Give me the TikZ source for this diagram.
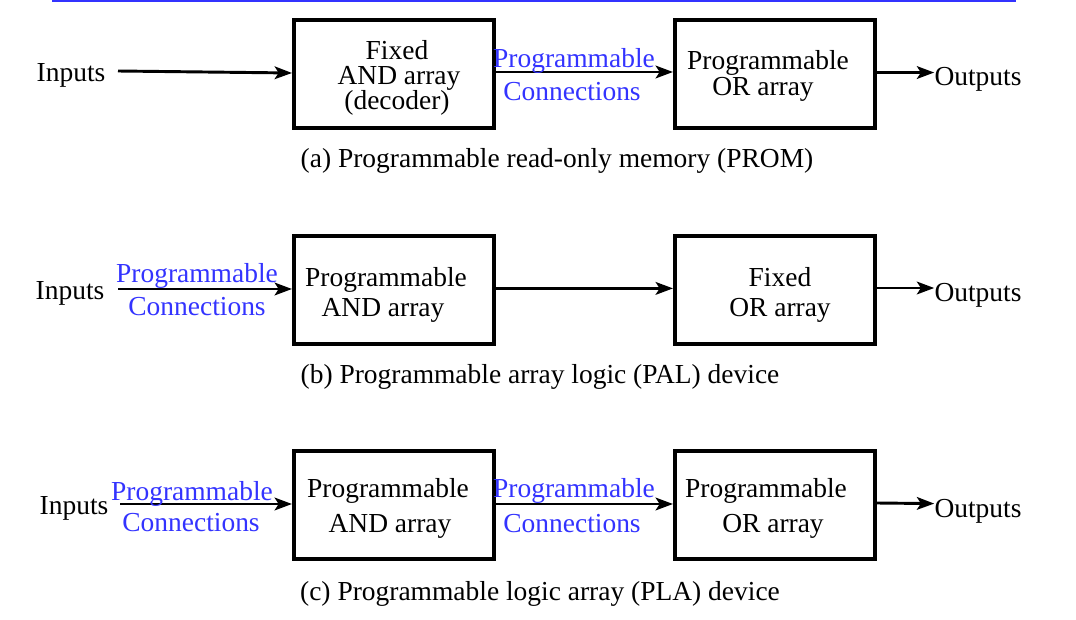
\documentclass[tikz,border=0pt]{standalone}
\usepackage{fontspec}
\setmainfont{Liberation Serif}
\usetikzlibrary{arrows.meta}
\definecolor{pblue}{HTML}{3333FF}
\begin{document}
\begin{tikzpicture}[x=0.75pt,y=-0.75pt,
  blk/.style={draw,line width=3pt,minimum width=150pt,minimum height=81pt,inner sep=0pt},
  txt/.style={inner sep=0pt,text height=0.64em,text depth=0.18em,yshift=-4.5pt,font=\fontsize{20.6}{24}\selectfont},
  btxt/.style={txt,text=pblue},
  conn/.style={line width=2.2pt,-{Stealth[length=13pt,width=9.5pt,inset=3pt]}}]
\useasboundingbox (0,0) rectangle (1076,620);
\draw[pblue,line width=2pt] (52,1) -- (1016,1);
% row a
\node[blk] (a1) at (394,74) {};
\node[blk] (a2) at (775,74) {};
\node[txt] (ain) at (71,72) {Inputs};
\node[txt] (aout) at (978,76) {Outputs};
\coordinate (ains) at (118,71);
\draw[conn] (ains) -- ([yshift=0.75pt]a1.west);
\draw[conn] ([yshift=1.5pt]a1.east) -- ([yshift=1.5pt]a2.west);
\draw[conn] ([yshift=1.1pt]a2.east) -- ([yshift=7.1pt]aout.west);
\node[txt] (a1l1) at (397,50) {Fixed};
\node[txt] (a1l2) at (399,75) {AND array};
\node[txt] (a1l3) at (397,100) {(decoder)};
\node[btxt] (ap1) at (574,58) {Programmable};
\node[btxt] (ap2) at (572,91) {Connections};
\node[txt] (a2l1) at (768,60) {Programmable};
\node[txt] (a2l2) at (763,86) {OR array};
\node[txt] (acap) at (557,158) {(a) Programmable read-only memory (PROM)};
% row b
\node[blk] (b1) at (394,290) {};
\node[blk] (b2) at (775,290) {};
\node[txt] (bin) at (70,290) {Inputs};
\node[txt] (bout) at (978,292) {Outputs};
\coordinate (bins) at (118,289);
\draw[conn] (bins) -- ([yshift=0.75pt]b1.west);
\draw[conn] ([yshift=1.2pt]b1.east) -- ([yshift=1.2pt]b2.west);
\draw[conn] ([yshift=1.5pt]b2.east) -- ([yshift=7.5pt]bout.west);
\node[btxt] (bp1) at (197,273) {Programmable};
\node[btxt] (bp2) at (197,306) {Connections};
\node[txt] (b1l1) at (386,277) {Programmable};
\node[txt] (b1l2) at (383,307) {AND array};
\node[txt] (b2l1) at (780,277) {Fixed};
\node[txt] (b2l2) at (780,307) {OR array};
\node[txt] (bcap) at (540,374) {(b) Programmable array logic (PAL) device};
% row c
\node[blk] (c1) at (394,505) {};
\node[blk] (c2) at (775,505) {};
\node[txt] (cin) at (74,505) {Inputs};
\node[txt] (cout) at (978,508) {Outputs};
\coordinate (cins) at (120,504);
\draw[conn] (cins) -- ([yshift=0.75pt]c1.west);
\draw[conn] ([yshift=0.75pt]c1.east) -- ([yshift=0.75pt]c2.west);
\draw[conn] ([yshift=1.5pt]c2.east) -- ([yshift=7.8pt]cout.west);
\node[btxt] (cp1) at (192,491) {Programmable};
\node[btxt] (cp2) at (191,522) {Connections};
\node[txt] (c1l1) at (388,488) {Programmable};
\node[txt] (c1l2) at (390,523) {AND array};
\node[btxt] (cp3) at (574,488) {Programmable};
\node[btxt] (cp4) at (572,523) {Connections};
\node[txt] (c2l1) at (766,488) {Programmable};
\node[txt] (c2l2) at (773,523) {OR array};
\node[txt] (ccap) at (540,591) {(c) Programmable logic array (PLA) device};
\end{tikzpicture}
\end{document}
